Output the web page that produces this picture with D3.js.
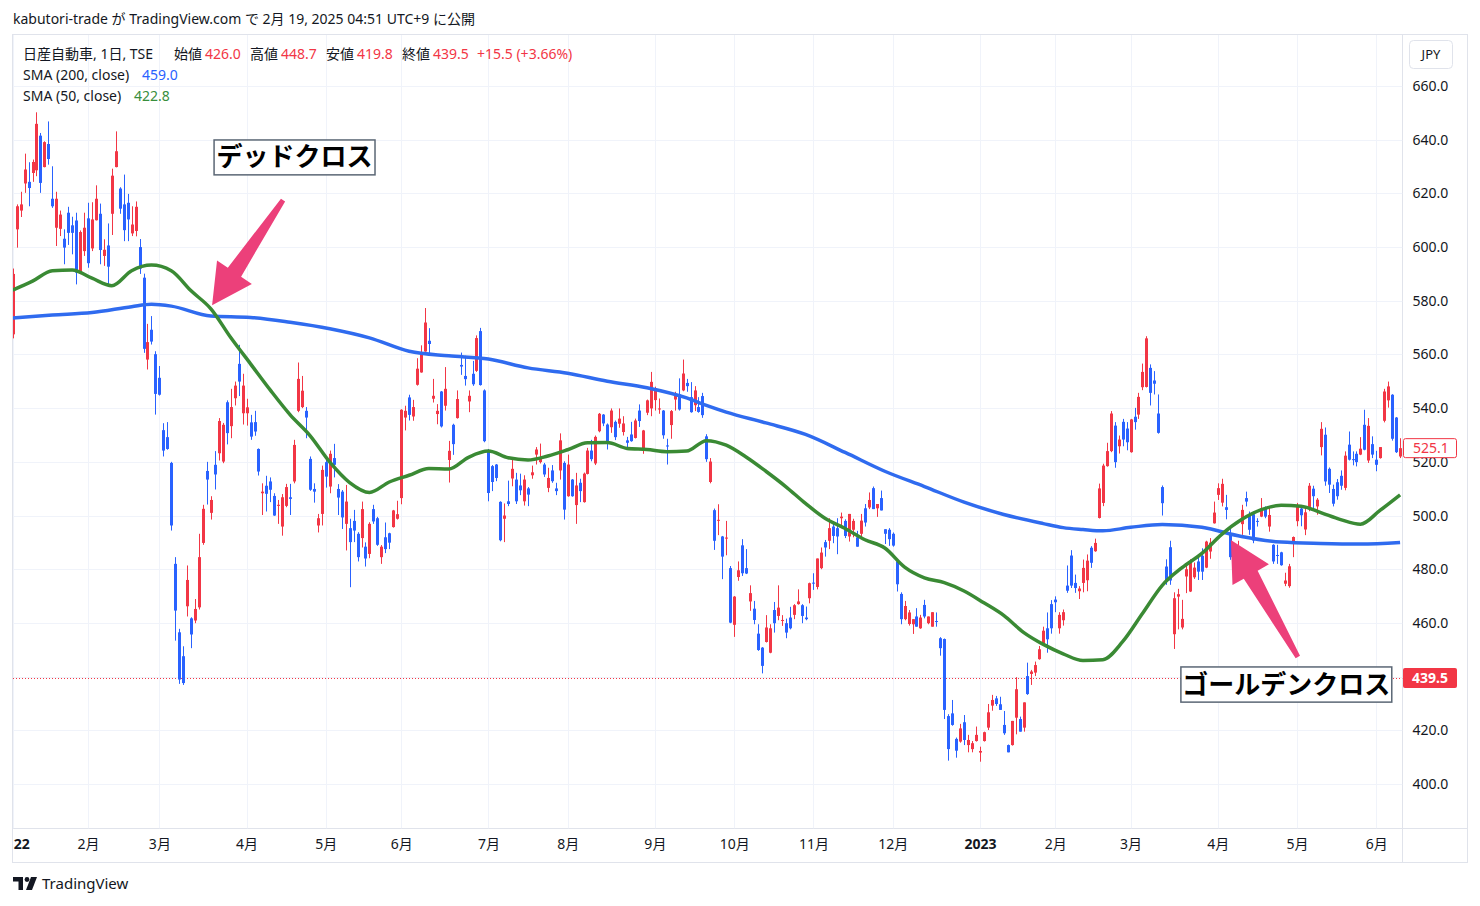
<!DOCTYPE html>
<html><head><meta charset="utf-8">
<script src="https://cdn.jsdelivr.net/npm/d3@7"></script>
<style>
body{margin:0;background:#fff;}
svg text{font-family:"Noto Sans","Noto Sans CJK JP",sans-serif;}
</style></head><body>
<svg id="c" width="1480" height="906"></svg>
<script>
// ---- DATA ----
const opens=[567.5,606.6,613.6,623.7,624.3,627.6,628.6,641.5,629.8,638.4,618.0,607.2,606.8,603.1,612.8,608.1,609.9,590.1,598.5,610.7,599.5,610.0,612.4,596.7,600.6,612.4,629.8,621.8,615.9,616.5,605.1,606,600,588.6,558.1,569.2,560.1,551.3,531.8,529.2,519.6,482.0,456.5,447.6,466.2,461.7,460.9,465.8,489.8,516.6,501.0,518.9,523.2,520.1,542.2,533.3,543.7,556.5,538.1,538.1,534.7,534.8,524.8,508.3,511.1,512.7,507.3,503.6,495.9,503.6,506.8,512.7,539.0,540.4,539.0,521.1,509.9,496.3,500.6,519.9,510.8,521.4,509.9,508.9,496.9,495.3,498.0,493.2,491.6,488.4,485.7,502.4,499.0,484.5,491.9,493.4,495.7,498.8,506.5,536.5,544.0,536.9,548.7,553.3,561.1,565.1,543.5,537.8,546.2,540.9,520.7,533.8,536.3,556.1,552.0,542.5,552.8,553.9,568.7,546.6,524.0,518.4,519.0,505.1,498.8,505.3,513.8,513.4,511.2,505.3,510.1,515.0,522.7,519.9,519.0,510.3,516.8,510.1,516.8,519.6,507.2,513.4,503.9,512.2,505.0,515.5,524.2,519.4,531.4,537.6,533.9,532.9,534.9,534.2,531.1,528.0,530.2,528.9,539.1,524.6,538.3,539.9,543.0,539.5,539.1,526.1,533.7,543.2,545.1,546.6,549.4,544.1,541.1,540.4,544.5,529.5,512.5,502.0,498.1,492.2,491.4,480.4,459.3,477.1,488.9,480.4,468.0,465.3,456.0,450.8,452.9,448.9,464.8,462.6,460.9,459.9,462.0,463.0,467.0,466.6,462.0,469.2,475.0,473.4,480.4,490.1,490.6,495.9,495.3,499.0,498.0,492.2,494.7,491.9,493.2,502.7,503.0,510.2,502.7,506.5,494.9,494.7,493.2,482.9,470.8,461.4,459.6,459.5,462.4,458.0,466.7,459.9,458.6,460.7,454.3,454.0,425.3,426.3,416.8,415.8,423.0,414.5,413.0,416.0,411.7,416.0,421.0,429.2,431.9,429.7,422.0,414.5,414.5,424.7,424.2,421.0,440.2,441.0,441.5,446.5,452.4,458.0,467,468.7,458,461,473.9,485.1,474.9,471.8,474.9,475.9,488.0,486.7,499.1,504.7,518.4,524.0,533.5,525.8,534.9,532.4,523.6,536.8,537.6,547.8,547.9,555.0,550.3,538.0,510.6,481.0,488.2,455.8,469.8,458.3,477.3,471.7,477.0,482.9,485.0,480.6,486.6,497.1,507.7,504.8,503.1,493.4,486.2,485.3,496.8,506.5,500.0,500.5,498.0,499.6,502.7,495.9,489.1,485.3,486.3,474.6,473.7,489.6,497.9,502.6,494.8,503.2,510.0,503.4,525.5,530.1,517.4,509.9,512.4,514.8,510.3,526.4,521.0,523.0,522.7,533.8,520.5,526.6,520.8,521.4,535.3,542.9,545.0,536.5,522.0];
const highs=[592,615.9,620.6,634.8,631.6,632.6,650.2,642.5,639.4,646.8,630.1,620.6,613.6,606.6,615.0,611.3,612.8,606.2,612.8,616.5,616.7,623.0,616.2,602.9,608.8,629.2,643.1,622.3,627.0,619.8,615.2,617,603,590.1,571.4,574.3,561.2,555.7,534.4,534.8,520.0,484.5,457.8,451.3,481.4,462.1,468.9,493.2,504.0,520.0,507.2,524.0,536.3,534.5,542.9,547.2,549.9,563.6,552.8,543.5,537.5,539.0,525.0,512.0,514.8,514.2,508.3,505.8,508.0,511.8,511.8,528.2,557.0,552.0,540.4,522.0,512.0,500.6,518.6,521.6,524.2,526.7,511.7,509.5,511.4,498.8,502.1,493.8,505.2,490,497.5,504.0,499.5,489,497.4,493.6,502.1,505.5,539.6,540.9,545.0,543.1,558.6,563.4,577.3,569.8,550.9,541.5,546.4,555.3,527.8,534.2,546.6,560.7,559.5,546.6,557.6,567.1,569.9,547.0,524.8,518.8,519.2,505.3,504.5,513.0,520.9,515.9,515.6,515.0,510.6,518.6,525.5,526.8,519.6,517.8,518.8,512.2,530.6,520.2,522.7,513.6,515.9,513.7,516.0,525.2,528.2,529.8,538.2,537.8,534.3,539.9,535.4,539.9,537.0,529.3,534.9,536.1,541.4,531.9,543.2,553.5,548.0,543.6,539.3,528.6,539.3,546.1,551.1,558.1,550.9,549.7,548.2,544.1,545.7,530.3,521.4,502.6,504.2,492.4,498.0,481.2,470.0,482.9,491.2,487.5,474.0,468.2,459.5,451.0,462.9,459.5,467.8,474.0,462.9,461.6,466.0,467.0,472.5,467.0,466.1,475.0,478.5,484.0,488.1,490.9,499.0,497.1,499.0,501.1,498.6,500.6,498.8,494.3,500.6,504.3,508.6,510.8,504.3,509.3,494.9,495.3,493.7,483.2,471.4,468.2,464.8,461.4,465.5,463.0,468.6,462.4,464.0,463.9,454.7,454.2,426.0,431.3,417.3,422.4,425.7,418.3,416.0,421.4,413.9,419.5,429.8,433.2,432.8,432.5,427.2,414.7,423.5,439.8,425.1,430.4,445.2,442.5,445.6,451.4,458.6,463.9,468.5,469.9,464,465,481.4,487.1,478.0,473.7,483.6,485.5,488.6,491.4,511.9,519.3,527.1,538.9,534.8,529.8,536.0,534.8,536.0,540.1,545.7,556.6,566.8,556.3,553.8,545.1,511.2,483.7,490.6,471.4,472.7,468.6,481.9,483.7,482.5,485.0,487.8,490.6,491.6,505.2,512.0,513.7,507.7,495.3,488.7,490.6,504.0,508.9,501.5,501.5,499.0,506.5,503.4,503.4,489.3,489.1,486.5,478.7,482.0,492.2,504.7,503.8,503.1,512.1,511.1,506.5,534.8,532.8,517.9,511.5,513.6,516.8,523.9,531.3,523.9,523.9,529.2,539.4,536.3,529.5,524.1,525.5,547.2,549.9,545.2,536.7,528.8];
const lows=[566,599.8,611.2,620.2,615.2,624.3,626.4,620.2,629.7,630.7,614.6,600.4,604.1,593.6,600.8,597.3,586.1,589.9,596.7,592.3,598.5,609.9,593.6,593.0,585.5,604.5,629.7,612.4,602.2,602.2,604.1,604,590,560.6,554.4,563.7,537.6,544.7,522.0,524.5,494.4,453.4,437.3,436.9,462.4,450.6,459.9,465.0,489.1,504.1,498.5,509.7,520.5,519.5,526.5,528.8,541.0,544.5,533.9,533.5,528.2,529.7,514.9,500.2,501.5,505.0,499.9,496.9,492.5,503.1,500.2,512.0,538.5,540.0,528.8,509.2,504.8,493.7,496.3,510.4,508.3,514.2,500.2,495.0,487.0,473.3,490.1,482.9,488.1,481,484.1,496.9,488.7,482,486.0,487.5,495.5,498.5,504.2,531.7,535.4,535.3,548.4,553.2,561.0,560.5,542.1,534.0,532.8,539.1,512.3,522.6,536.1,552.4,548.4,538.5,548.3,553.5,548.4,527.3,505.3,509.1,512.8,490.4,490.1,503.5,510.9,504.3,507.6,503.7,503.5,513.7,519.0,519.4,514.4,508.7,512.2,507.6,513.4,498.5,507.0,507.0,496.9,505.0,504.8,515.3,520.2,518.8,531.0,533.3,524.6,530.8,528.1,532.7,529.8,525.2,527.5,528.7,533.0,523.0,537.4,537.0,539.1,537.9,528.6,519.0,528.6,539.1,539.1,546.3,546.1,538.3,538.9,538.3,536.4,520.0,512.0,487.2,492.7,476.3,485.2,459.9,454.8,475.7,477.5,478.2,464.5,459.5,449.6,441.2,452.7,448.7,456.4,461.0,458.9,454.3,457.6,461.4,466.8,459.9,461.0,467.3,472.3,472.5,480.0,484.7,487.5,489.7,485.6,495.3,491.6,490.3,491.9,488.4,491.9,495.9,502.4,502.4,499.5,501.9,489.4,488.7,488.4,471.7,459.5,461.0,459.0,455.9,458.6,457.8,461.7,459.5,458.6,458.6,447.8,424.2,408.7,421.7,409.8,415.4,414.5,411.8,411.8,415.8,408.3,415.8,420.1,427.3,429.1,427.6,418.3,411.8,414.3,418.5,419.5,419.5,433.2,436.9,440.2,446.3,451.4,448.9,456,464,456,459,471.2,473.0,471.2,468.9,471.4,471.8,480.5,486.5,498.9,503.5,518.2,523.6,517.8,523.1,525.8,524.3,523.4,532.0,536.0,546.7,547.7,541.0,545.1,530.5,500.0,474.2,474.2,450.3,457.6,457.6,471.1,471.5,476.4,476.0,476.0,480.4,483.9,497.0,505.8,503.4,498.6,483.5,483.5,485.1,492.8,503.4,492.8,489.7,495.9,499.4,499.0,494.0,482.0,482.0,481.3,473.7,473.1,484.5,496.0,496.0,492.7,501.6,502.8,500.3,522.4,511.1,508.4,503.4,505.9,509.6,509.4,520.5,518.7,518.3,522.5,524.3,519.6,521.4,516.5,521.2,534.7,540.2,527.9,523.3,521.4];
const closes=[590,615.2,615.9,628.9,622.0,631.7,645.9,623.9,639.1,632.8,615.2,618.0,612.1,599.8,605.3,605.3,590.5,605.6,607.2,594.0,610.3,618.0,598.9,599.0,592.7,626.6,635.7,614.3,606.3,610.3,608.4,615,592,562.1,564.6,564.8,545.3,545.0,524.2,524.8,496.3,464.6,438.9,437.6,476.0,455.7,465.2,484.5,502.5,513.4,505.8,515.3,535.2,533.8,530.7,540.4,548.4,549.9,548.4,540.3,529.4,531.3,516.4,508.9,508.1,509.6,500.0,504.0,506.8,510.6,506.2,526.3,550.9,546.5,536.5,509.6,508.9,499.0,517.0,514.5,523.0,518.9,506.7,499.3,505.2,490.1,494.4,484.5,502.4,484,496.9,497.8,489.1,488.4,487.5,489.9,501.9,500.5,539.4,539.0,537.5,540.4,554.7,560.9,571.9,563.9,544.6,539.0,533.2,547.2,524.1,526.6,543.4,555.5,550.8,544.6,548.9,566.1,548.6,527.7,508.4,512.5,514.0,490.8,500.0,504.3,517.4,505.3,509.4,513.4,507.8,516.1,524.6,521.5,515.3,514.0,512.8,509.1,528.0,502.2,519.0,507.2,511.2,509.1,515.6,524.2,521.0,529.3,537.9,534.3,527.7,539.1,529.2,536.1,534.3,527.1,527.7,535.4,535.2,531.7,542.9,549.8,547.0,539.9,529.9,525.8,538.9,545.1,539.5,552.9,548.2,538.5,546.6,538.6,537.4,521.0,520.1,490.6,498.4,484.7,491.8,460.1,469.8,479.6,478.5,478.4,471.1,461.1,449.9,444.0,458.3,458.0,459.9,465.7,461.1,456.4,458.0,466.6,468.0,462.6,461.4,474.8,474.8,484.0,486.2,488.1,495.3,492.4,492.2,499.6,492.4,500.6,498.0,488.4,498.1,497.4,505.8,502.4,504.3,501.9,493.2,491.2,488.8,474.4,461.4,466.3,463.9,461.4,458.6,462.0,462.4,462.4,464.0,460.5,450.6,427.6,413.0,422.0,412.4,420.7,416.4,416.4,415.2,418.3,412.3,419.3,426.7,431.3,429.8,427.6,418.9,411.8,423.5,435.3,419.5,430.4,433.5,441.9,444.3,450.2,457.1,453.9,458,467.7,463,464,472.0,473.9,473.0,472.8,480.5,483.2,482.4,489.8,510.1,518.6,524.0,538.0,519.9,528.3,528.3,527.3,535.8,534.8,544.2,553.5,566.0,545.7,549.1,530.8,504.6,475.8,475.8,469.2,470.7,461.5,480.0,482.9,480.6,479.1,479.1,490.3,489.9,501.1,510.2,511.8,502.1,484.5,484.1,488.4,502.1,505.2,494.7,490.7,497.8,502.7,499.6,500.2,482.9,485.1,481.5,475.8,481.1,492.0,503.8,500.1,501.2,511.1,507.2,505.9,532.3,512.7,511.5,504.4,507.2,511.1,522.3,520.8,520.8,519.9,524.9,524.5,533.4,522.7,518.9,525.5,546.2,548.1,528.6,523.6,525.1];

const sma200Idx=[0,10,20,30,35,40,50,60,70,80,90,100,110,120,130,140,150,160,170,175,180,190,200,210,220,230,240,250,260,265,270,275,282,290,300,310,320,330,340,350];
const sma200=[573.6,574.7,575.6,577.8,578.7,578.0,574.3,573.8,572.0,569.6,566.2,561.2,559.5,558.3,555.0,553.0,550.0,547.6,543.8,541.0,538.5,534.5,530.2,523.5,516.5,510.8,505.0,500.4,497.0,495.5,494.8,494.3,495.6,496.7,495.6,492.2,490.1,489.6,489.4,490.0];

const sma50Idx=[0,5,10,15,20,25,30,35,40,45,50,55,60,65,70,75,80,85,90,95,100,105,110,115,120,125,130,135,140,145,150,155,160,165,170,175,180,185,190,195,200,205,210,215,220,225,230,235,240,245,250,255,260,265,270,275,280,285,290,295,300,305,310,315,320,325,330,335,340,345,350];
const sma50=[584.0,587.3,591.2,591.5,588.4,585.6,591.2,593.3,591.2,583.7,577.0,566.3,556.5,546.7,537.5,529.8,519.9,512.3,508.6,512.5,515.0,517.5,517.3,521.7,524.0,521.5,520.7,522.2,524.5,527.1,527.2,525.0,524.6,523.8,524.0,527.9,526.2,521.8,516.5,510.8,504.5,498.9,495.2,491.0,487.9,480.8,476.8,475.0,471.9,467.5,462.8,456.5,452.0,448.5,446.0,446.3,453.0,463.5,474.0,480.6,485.9,493.0,498.5,502.2,503.8,503.5,501.1,498.5,496.8,502.0,507.7];

const monthIdx=[0,19,37,59,79,98,120,140,162,182,202,222,244,263,282,304,324,344];
const monthLabels=["22","2月","3月","4月","5月","6月","7月","8月","9月","10月","11月","12月","2023","2月","3月","4月","5月","6月"];
const priceTicks=[400,420,440,460,480,500,520,540,560,580,600,620,640,660];

const lastPrice=439.5, lastVisible=525.1;

// ---- LAYOUT ----
const FONT='"Noto Sans","Noto Sans CJK JP",sans-serif';
const svg=d3.select("#c");
const PL=13, PR=1402.5, PT=35, PB=828.5, AX=1467.5, BB=862.5;
const x=d3.scaleLinear().domain([0,350]).range([12.7,12.7+350*3.964]);
const y=d3.scaleLinear().domain([400,660]).range([784,86]);
const RED="#F23645", BLUE="#2962FF", TXT="#131722", GRID="#F0F3FA", BORDER="#E0E3EB";

// header
svg.append("text").attr("x",13).attr("y",24).attr("font-size",14).attr("fill",TXT)
  .text("kabutori-trade が TradingView.com で 2月 19, 2025 04:51 UTC+9 に公開");

// frame
svg.append("rect").attr("x",PL-0.5).attr("y",PT-0.5).attr("width",AX-PL+0.5).attr("height",BB-PT+0.5)
  .attr("fill","none").attr("stroke",BORDER);
svg.append("line").attr("x1",PR).attr("x2",PR).attr("y1",PT).attr("y2",BB).attr("stroke",BORDER);
svg.append("line").attr("x1",PL).attr("x2",AX).attr("y1",PB).attr("y2",PB).attr("stroke",BORDER);

// clip
svg.append("defs").append("clipPath").attr("id","plot").append("rect")
  .attr("x",PL).attr("y",PT).attr("width",PR-PL).attr("height",PB-PT);
const plot=svg.append("g").attr("clip-path","url(#plot)");

// grid
plot.selectAll(".hg").data(priceTicks).join("line")
  .attr("x1",PL).attr("x2",PR).attr("y1",d=>Math.round(y(d))+0.5).attr("y2",d=>Math.round(y(d))+0.5)
  .attr("stroke",GRID);
plot.selectAll(".vg").data(monthIdx).join("line")
  .attr("y1",PT).attr("y2",PB).attr("x1",d=>Math.round(x(d))+0.5).attr("x2",d=>Math.round(x(d))+0.5)
  .attr("stroke",GRID);

// last price dotted line
plot.append("line").attr("x1",PL).attr("x2",PR)
  .attr("y1",Math.round(y(lastPrice))+0.5).attr("y2",Math.round(y(lastPrice))+0.5)
  .attr("stroke",RED).attr("stroke-dasharray","1,2");

// candles
const bars=opens.map((o,i)=>({i,o,h:highs[i],l:lows[i],c:closes[i]}));
const col=d=>d.c>=d.o?RED:BLUE;
plot.selectAll(".wick").data(bars).join("line")
  .attr("x1",d=>Math.round(x(d.i))+0.5).attr("x2",d=>Math.round(x(d.i))+0.5)
  .attr("y1",d=>y(d.h)).attr("y2",d=>y(d.l)).attr("stroke",col).attr("stroke-width",1);
plot.selectAll(".body").data(bars).join("rect")
  .attr("x",d=>Math.round(x(d.i))-1).attr("width",3)
  .attr("y",d=>y(Math.max(d.o,d.c)))
  .attr("height",d=>Math.max(1,Math.abs(y(d.o)-y(d.c))))
  .attr("fill",col);

// SMA lines
const line=d3.line().curve(d3.curveMonotoneX);
plot.append("path").attr("d",line(sma200Idx.map((k,j)=>[x(k),y(sma200[j])])))
  .attr("fill","none").attr("stroke","#2F6BEF").attr("stroke-width",3.5).attr("stroke-linejoin","round");
plot.append("path").attr("d",line(sma50Idx.map((k,j)=>[x(k),y(sma50[j])])))
  .attr("fill","none").attr("stroke","#3A8A34").attr("stroke-width",3.5).attr("stroke-linejoin","round");

// annotations (data coordinates)
const arrows=[{tailI:68.2,tailP:617.5,tipI:50.3,tipP:578.3},{tailI:324.2,tailP:447.3,tipI:307.3,tipP:490.9}];
arrows.forEach(a=>{
  const tx=x(a.tailI), ty=y(a.tailP), px=x(a.tipI), py=y(a.tipP);
  const dx=px-tx, dy=py-ty, L=Math.hypot(dx,dy), ux=dx/L, uy=dy/L, nx=-uy, ny=ux;
  const HL=40, HW=21, SW0=2.5, SW1=8;
  const bx=px-ux*HL, by=py-uy*HL;
  const pts=[[tx+nx*SW0,ty+ny*SW0],[bx+nx*SW1,by+ny*SW1],[bx+nx*HW,by+ny*HW],[px,py],
             [bx-nx*HW,by-ny*HW],[bx-nx*SW1,by-ny*SW1],[tx-nx*SW0,ty-ny*SW0]];
  svg.append("polygon").attr("points",pts.map(p=>p.join(",")).join(" ")).attr("fill","#EC407A");
});
const boxes=[{i0:50.8,i1:91.4,p0:639.9,p1:626.9,t:"デッドクロス"},{i0:294.7,i1:347.9,p0:443.6,p1:430.5,t:"ゴールデンクロス"}];
boxes.forEach(b=>{
  const x0=x(b.i0), x1=x(b.i1), y0=y(b.p0), y1=y(b.p1);
  svg.append("rect").attr("x",x0).attr("y",y0).attr("width",x1-x0).attr("height",y1-y0)
    .attr("fill","#fff").attr("stroke","#5B6775").attr("stroke-width",1.5);
  svg.append("text").attr("x",(x0+x1)/2).attr("y",(y0+y1)/2+9).attr("text-anchor","middle")
    .attr("font-size",26).attr("font-weight","bold").attr("fill","#000").text(b.t);
});

// legend
const leg=svg.append("g").attr("font-size",14);
const row1=[["日産自動車, 1日, TSE",23,TXT],["始値",174,TXT],["426.0",205,RED],["高値",250,TXT],["448.7",281,RED],
  ["安値",326,TXT],["419.8",357,RED],["終値",402,TXT],["439.5",433,RED],["+15.5 (+3.66%)",477,RED]];
row1.forEach(r=>leg.append("text").attr("x",r[1]).attr("y",59).attr("fill",r[2]).text(r[0]));
leg.append("text").attr("x",23).attr("y",80).attr("fill",TXT).text("SMA (200, close)");
leg.append("text").attr("x",142).attr("y",80).attr("fill",BLUE).text("459.0");
leg.append("text").attr("x",23).attr("y",101).attr("fill",TXT).text("SMA (50, close)");
leg.append("text").attr("x",134).attr("y",101).attr("fill","#388E3C").text("422.8");

// price axis
const yAxis=svg.append("g").attr("transform",`translate(${PR},0)`)
  .call(d3.axisRight(y).tickValues(priceTicks).tickFormat(d=>d.toFixed(1)).tickSize(0).tickPadding(10));
yAxis.select(".domain").remove();
yAxis.selectAll("text").attr("font-size",14).attr("fill",TXT).attr("font-family",FONT);

// JPY box
svg.append("rect").attr("x",1409.5).attr("y",40.5).attr("width",43).attr("height",28).attr("rx",4)
  .attr("fill","#fff").attr("stroke",BORDER);
svg.append("text").attr("x",1431).attr("y",59).attr("text-anchor","middle").attr("font-size",13).attr("fill",TXT).text("JPY");

// price labels
const yl=y(lastVisible);
svg.append("rect").attr("x",1403.5).attr("y",yl-9.5).attr("width",53).attr("height",19).attr("rx",2)
  .attr("fill","#fff").attr("stroke",RED);
svg.append("text").attr("x",1413).attr("y",yl+5).attr("font-size",14).attr("fill",RED).text(lastVisible.toFixed(1));
const yp=y(lastPrice);
svg.append("rect").attr("x",1403).attr("y",yp-10).attr("width",54).attr("height",20).attr("rx",2).attr("fill",RED);
svg.append("text").attr("x",1412).attr("y",yp+5).attr("font-size",14).attr("font-weight","bold").attr("fill","#fff").text(lastPrice.toFixed(1));

// time axis
const xAxis=svg.append("g").attr("transform",`translate(0,${PB})`)
  .call(d3.axisBottom(x).tickValues(monthIdx).tickFormat((d,i)=>monthLabels[i]).tickSize(0).tickPadding(11));
xAxis.select(".domain").remove();
xAxis.selectAll("text").attr("font-size",14).attr("fill",TXT).attr("font-family",FONT)
  .attr("font-weight",(d,i)=>(monthLabels[i]==="22"||monthLabels[i]==="2023")?"bold":"normal")
  .attr("text-anchor",(d,i)=>i===0?"start":"middle").attr("dx",(d,i)=>i===0?0.5:0);

// TradingView logo
const lg=svg.append("g").attr("fill","#131722");
lg.append("path").attr("d","M13,877 h10 v13 h-4.5 v-8.5 h-5.5 z");
lg.append("circle").attr("cx",27).attr("cy",879.5).attr("r",2.4);
lg.append("path").attr("d","M31,877 h6 l-5,13 h-6 z");
svg.append("text").attr("x",42).attr("y",889).attr("font-size",15).attr("fill","#131722").text("TradingView");
</script>
</body></html>
